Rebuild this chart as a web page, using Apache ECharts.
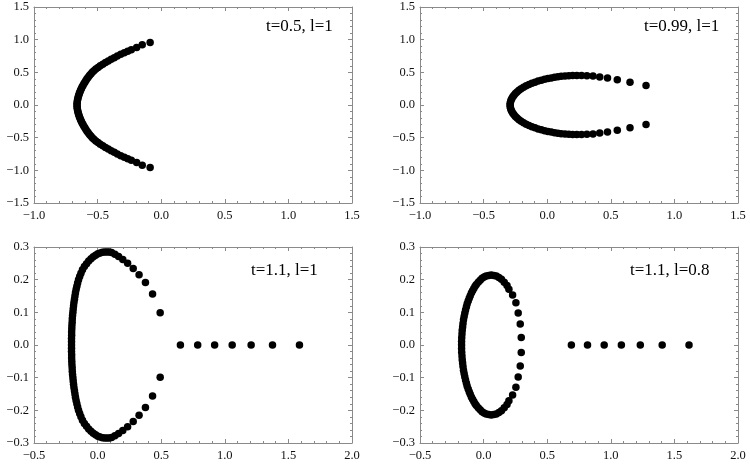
<!DOCTYPE html>
<html>
<head>
<meta charset="utf-8">
<script src="https://cdn.jsdelivr.net/npm/echarts@6/dist/echarts.min.js"></script>
<style>
  html, body { margin: 0; padding: 0; background: #fff; }
  #chart { width: 750px; height: 464px; }
</style>
</head>
<body>
<div id="chart"></div>
<script>
// t=0.5, l=1 : parabola-like arc opening to the right
var ptsA = [
  [-0.662, 0.000],
  [-0.661, 0.025], [-0.660, 0.050], [-0.658, 0.075], [-0.655, 0.100], [-0.652, 0.125],
  [-0.648, 0.150], [-0.644, 0.175], [-0.639, 0.200], [-0.634, 0.225], [-0.628, 0.250],
  [-0.622, 0.275], [-0.615, 0.300], [-0.608, 0.325], [-0.600, 0.350], [-0.592, 0.375],
  [-0.583, 0.400], [-0.574, 0.425], [-0.564, 0.450], [-0.553, 0.475], [-0.542, 0.500],
  [-0.529, 0.525], [-0.514, 0.550], [-0.497, 0.575], [-0.479, 0.600], [-0.459, 0.625],
  [-0.438, 0.650], [-0.416, 0.675], [-0.393, 0.700], [-0.369, 0.725], [-0.345, 0.750],
  [-0.318, 0.775], [-0.290, 0.800], [-0.263, 0.823], [-0.235, 0.846], [-0.193, 0.882],
  [-0.149, 0.923], [-0.087, 0.955],
  [-0.661, -0.025], [-0.660, -0.050], [-0.658, -0.075], [-0.655, -0.100], [-0.652, -0.125],
  [-0.648, -0.150], [-0.644, -0.175], [-0.639, -0.200], [-0.634, -0.225], [-0.628, -0.250],
  [-0.622, -0.275], [-0.615, -0.300], [-0.608, -0.325], [-0.600, -0.350], [-0.592, -0.375],
  [-0.583, -0.400], [-0.574, -0.425], [-0.564, -0.450], [-0.553, -0.475], [-0.542, -0.500],
  [-0.529, -0.525], [-0.514, -0.550], [-0.497, -0.575], [-0.479, -0.600], [-0.459, -0.625],
  [-0.438, -0.650], [-0.416, -0.675], [-0.393, -0.700], [-0.369, -0.725], [-0.345, -0.750],
  [-0.318, -0.775], [-0.290, -0.800], [-0.263, -0.823], [-0.235, -0.846], [-0.193, -0.882],
  [-0.149, -0.923], [-0.087, -0.955]
];

// t=0.99, l=1 : C shape
var ptsB = [
  [-0.292, 0.000],
  [-0.291, 0.025], [-0.288, 0.050], [-0.284, 0.075], [-0.278, 0.100], [-0.270, 0.125],
  [-0.261, 0.150], [-0.250, 0.175], [-0.237, 0.200], [-0.222, 0.225], [-0.205, 0.250],
  [-0.186, 0.273], [-0.165, 0.295], [-0.143, 0.315], [-0.120, 0.333], [-0.096, 0.350],
  [-0.071, 0.366], [-0.046, 0.380], [-0.020, 0.393], [0.006, 0.405], [0.032, 0.415],
  [0.058, 0.424], [0.084, 0.432], [0.110, 0.439], [0.140, 0.444], [0.170, 0.448],
  [0.200, 0.450], [0.233, 0.451], [0.270, 0.451], [0.312, 0.448], [0.360, 0.442],
  [0.413, 0.430], [0.474, 0.413], [0.551, 0.387], [0.651, 0.350], [0.777, 0.300],
  [-0.291, -0.025], [-0.288, -0.050], [-0.284, -0.075], [-0.278, -0.100], [-0.270, -0.125],
  [-0.261, -0.150], [-0.250, -0.175], [-0.237, -0.200], [-0.222, -0.225], [-0.205, -0.250],
  [-0.186, -0.273], [-0.165, -0.295], [-0.143, -0.315], [-0.120, -0.333], [-0.096, -0.350],
  [-0.071, -0.366], [-0.046, -0.380], [-0.020, -0.393], [0.006, -0.405], [0.032, -0.415],
  [0.058, -0.424], [0.084, -0.432], [0.110, -0.439], [0.140, -0.444], [0.170, -0.448],
  [0.200, -0.450], [0.233, -0.451], [0.270, -0.451], [0.312, -0.448], [0.360, -0.442],
  [0.413, -0.430], [0.474, -0.413], [0.551, -0.387], [0.651, -0.350], [0.777, -0.300]
];

// t=1.1, l=1 : open oval plus points on the real axis
var ptsC = [
  [-0.205, 0.000],
  [-0.205, 0.010], [-0.205, 0.020], [-0.204, 0.030], [-0.204, 0.040], [-0.203, 0.050],
  [-0.202, 0.060], [-0.200, 0.070], [-0.199, 0.080], [-0.197, 0.090], [-0.194, 0.100],
  [-0.192, 0.110], [-0.189, 0.120], [-0.186, 0.130], [-0.182, 0.140], [-0.178, 0.150],
  [-0.174, 0.160], [-0.169, 0.170], [-0.163, 0.180], [-0.157, 0.190], [-0.150, 0.200],
  [-0.141, 0.210], [-0.131, 0.220], [-0.119, 0.230], [-0.104, 0.240], [-0.087, 0.249],
  [-0.070, 0.257], [-0.052, 0.264], [-0.034, 0.270], [-0.016, 0.275], [0.002, 0.279],
  [0.020, 0.282], [0.038, 0.284], [0.056, 0.285], [0.074, 0.285], [0.092, 0.285],
  [0.110, 0.283], [0.136, 0.278], [0.165, 0.271], [0.198, 0.262], [0.236, 0.250],
  [0.280, 0.234], [0.326, 0.215], [0.376, 0.191], [0.432, 0.156], [0.492, 0.099],
  [-0.205, -0.010], [-0.205, -0.020], [-0.204, -0.030], [-0.204, -0.040], [-0.203, -0.050],
  [-0.202, -0.060], [-0.200, -0.070], [-0.199, -0.080], [-0.197, -0.090], [-0.194, -0.100],
  [-0.192, -0.110], [-0.189, -0.120], [-0.186, -0.130], [-0.182, -0.140], [-0.178, -0.150],
  [-0.174, -0.160], [-0.169, -0.170], [-0.163, -0.180], [-0.157, -0.190], [-0.150, -0.200],
  [-0.141, -0.210], [-0.131, -0.220], [-0.119, -0.230], [-0.104, -0.240], [-0.087, -0.249],
  [-0.070, -0.257], [-0.052, -0.264], [-0.034, -0.270], [-0.016, -0.275], [0.002, -0.279],
  [0.020, -0.282], [0.038, -0.284], [0.056, -0.285], [0.074, -0.285], [0.092, -0.285],
  [0.110, -0.283], [0.136, -0.278], [0.165, -0.271], [0.198, -0.262], [0.236, -0.250],
  [0.280, -0.234], [0.326, -0.215], [0.376, -0.191], [0.432, -0.156], [0.492, -0.099],
  [0.651, 0], [0.787, 0], [0.920, 0], [1.058, 0], [1.207, 0], [1.375, 0], [1.587, 0]
];

// t=1.1, l=0.8 : closed oval plus points on the real axis
var ptsD = [
  [-0.173, 0.000],
  [-0.173, 0.011], [-0.172, 0.022], [-0.170, 0.034], [-0.168, 0.045], [-0.165, 0.055],
  [-0.162, 0.066], [-0.158, 0.077], [-0.153, 0.087], [-0.148, 0.097], [-0.142, 0.107],
  [-0.135, 0.117], [-0.129, 0.126], [-0.121, 0.135], [-0.113, 0.143], [-0.105, 0.151],
  [-0.096, 0.159], [-0.087, 0.166], [-0.077, 0.173], [-0.067, 0.180], [-0.057, 0.185],
  [-0.042, 0.192], [-0.027, 0.198], [-0.012, 0.204], [0.004, 0.208], [0.020, 0.211],
  [0.040, 0.213], [0.060, 0.214], [0.080, 0.213], [0.100, 0.211], [0.120, 0.207],
  [0.140, 0.201], [0.162, 0.192], [0.184, 0.182], [0.199, 0.171], [0.228, 0.153],
  [0.254, 0.129], [0.272, 0.098], [0.288, 0.064], [0.296, 0.023],
  [-0.173, -0.011], [-0.172, -0.022], [-0.170, -0.034], [-0.168, -0.045], [-0.165, -0.055],
  [-0.162, -0.066], [-0.158, -0.077], [-0.153, -0.087], [-0.148, -0.097], [-0.142, -0.107],
  [-0.135, -0.117], [-0.129, -0.126], [-0.121, -0.135], [-0.113, -0.143], [-0.105, -0.151],
  [-0.096, -0.159], [-0.087, -0.166], [-0.077, -0.173], [-0.067, -0.180], [-0.057, -0.185],
  [-0.042, -0.192], [-0.027, -0.198], [-0.012, -0.204], [0.004, -0.208], [0.020, -0.211],
  [0.040, -0.213], [0.060, -0.214], [0.080, -0.213], [0.100, -0.211], [0.120, -0.207],
  [0.140, -0.201], [0.162, -0.192], [0.184, -0.182], [0.199, -0.171], [0.228, -0.153],
  [0.254, -0.129], [0.272, -0.098], [0.288, -0.064], [0.296, -0.023],
  [0.690, 0], [0.817, 0], [0.948, 0], [1.083, 0], [1.232, 0], [1.404, 0], [1.615, 0]
];

var panelLabels = ['t=0.5, l=1', 't=0.99, l=1', 't=1.1, l=1', 't=1.1, l=0.8'];

// axis ranges [min, max, major step] for each panel
var xRanges = [[-1.0, 1.5, 0.5], [-1.0, 1.5, 0.5], [-0.5, 2.0, 0.5], [-0.5, 2.0, 0.5]];
var yRanges = [[-1.5, 1.5, 0.5], [-1.5, 1.5, 0.5], [-0.3, 0.3, 0.1], [-0.3, 0.3, 0.1]];

var chart = echarts.init(document.getElementById('chart'));

var FONT = '"Liberation Serif", "DejaVu Serif", serif';
var FRAME = '#8a8a8a';

function fmt(v) {
  if (Math.abs(v) < 1e-9) v = 0;
  return (v < 0 ? '\u2212' : '') + Math.abs(v).toFixed(1);
}

var grids = [
  { left: 34, top: 7, width: 318, height: 196 },
  { left: 420, top: 7, width: 318, height: 196 },
  { left: 34, top: 247, width: 318, height: 196 },
  { left: 420, top: 247, width: 318, height: 196 }
];
var labelPos = [[266, 18], [644, 18], [251, 262], [630, 262]];

function axis(kind, pos, idx, range, showLabel) {
  return {
    type: 'value',
    gridIndex: idx,
    position: pos,
    min: range[0],
    max: range[1],
    interval: range[2],
    axisLine: { show: true, onZero: false, lineStyle: { color: FRAME, width: 1 } },
    axisTick: { show: true, inside: true, length: 4, lineStyle: { color: FRAME } },
    minorTick: { show: true, splitNumber: 5, length: 2, lineStyle: { color: FRAME } },
    splitLine: { show: false },
    axisLabel: {
      show: showLabel,
      showMinLabel: true,
      showMaxLabel: true,
      fontFamily: FONT,
      fontSize: 12.5,
      color: '#111',
      margin: kind === 'x' ? 6 : 5,
      formatter: fmt
    }
  };
}

var xAxes = [], yAxes = [], series = [];
var allPts = [ptsA, ptsB, ptsC, ptsD];
for (var i = 0; i < 4; i++) {
  xAxes.push(axis('x', 'bottom', i, xRanges[i], true));
  xAxes.push(axis('x', 'top', i, xRanges[i], false));
  yAxes.push(axis('y', 'left', i, yRanges[i], true));
  yAxes.push(axis('y', 'right', i, yRanges[i], false));
  series.push({
    type: 'scatter',
    xAxisIndex: i * 2,
    yAxisIndex: i * 2,
    data: allPts[i],
    symbol: 'circle',
    symbolSize: 7.5,
    itemStyle: { color: '#000', opacity: 1 },
    silent: true
  });
}

var graphics = panelLabels.map(function (t, i) {
  return {
    type: 'text',
    left: labelPos[i][0],
    top: labelPos[i][1],
    style: { text: t, font: '17px ' + FONT, fill: '#000' }
  };
});

chart.setOption({
  animation: false,
  backgroundColor: '#fff',
  grid: grids,
  xAxis: xAxes,
  yAxis: yAxes,
  series: series,
  graphic: graphics
});
</script>
</body>
</html>
